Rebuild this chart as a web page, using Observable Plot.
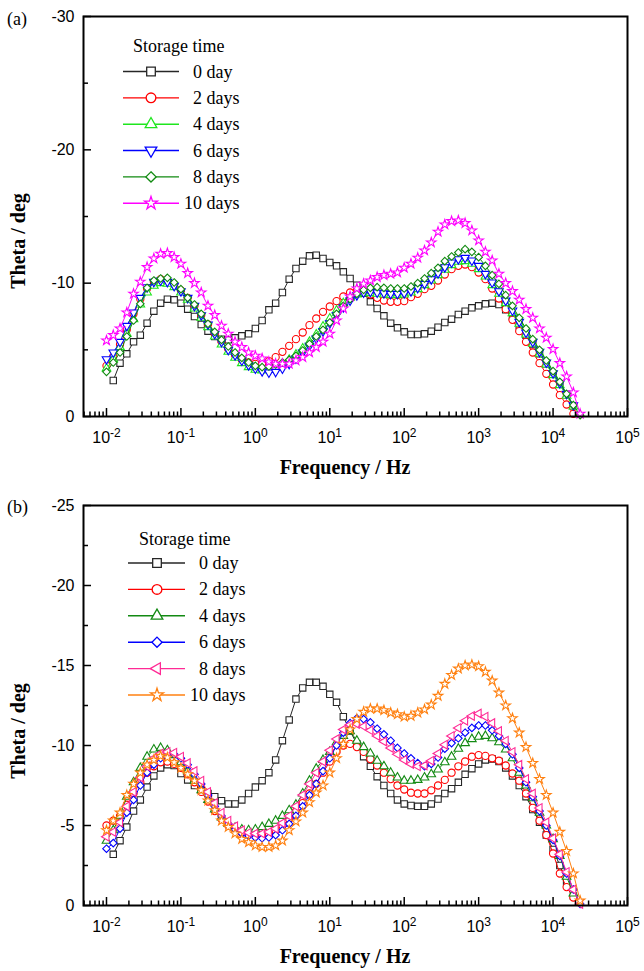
<!DOCTYPE html>
<html>
<head>
<meta charset="utf-8">
<script src="https://cdn.jsdelivr.net/npm/d3@7"></script>
<script src="https://cdn.jsdelivr.net/npm/@observablehq/plot@0.6"></script>
<style>
  html, body { margin: 0; padding: 0; background: #fff; }
  svg { display: block; }
</style>
</head>
<body>
<div id="chart"></div>
<script>
// ---------- DATA ----------
// Frequencies (Hz), 11 points per decade
const freq = [
  0.01,0.01233,0.0152,0.01874,0.0231,0.02848,0.03511,0.04329,0.05337,0.06579,0.08111,
  0.1,0.1233,0.152,0.1874,0.231,0.2848,0.3511,0.4329,0.5337,0.6579,0.8111,
  1,1.233,1.52,1.874,2.31,2.848,3.511,4.329,5.337,6.579,8.111,
  10,12.33,15.2,18.74,23.1,28.48,35.11,43.29,53.37,65.79,81.11,
  100,123.3,152,187.4,231,284.8,351.1,432.9,533.7,657.9,811.1,
  1000,1233,1520,1874,2310,2848,3511,4329,5337,6579,8111,
  10000,12330,15200,18740,23100
];

const seriesNames = ["0 day", "2 days", "4 days", "6 days", "8 days", "10 days"];

// Panel (a) theta / deg
const a_0day = [null,
  -2.7,-4.0,-4.7,-5.6,-6.1,-7.0,-7.9,-8.5,-8.8,-8.75,
  -8.5,-8.05,-7.5,-6.9,-6.4,-6.0,-5.8,-5.75,-5.9,-6.05,-6.2,
  -6.6,-7.2,-8.0,-8.5,-9.3,-10.3,-11.1,-11.65,-12.05,-12.1,-11.85,
  -11.55,-11.3,-10.85,-10.35,-9.85,-9.25,-8.6,-8.1,-7.55,-7.0,-6.65,
  -6.35,-6.15,-6.15,-6.2,-6.4,-6.7,-7.05,-7.3,-7.65,-7.9,-8.15,
  -8.3,-8.45,-8.5,-8.4,-8.0,-7.5,-6.8,-6.1,-5.4,-4.7,-3.95,
  -3.2,-2.45,-1.65,-0.8,null];
const a_2days = [
  -3.8,-4.5,-5.4,-6.5,-7.7,-8.8,-9.6,-10.1,-10.3,-10.2,-9.9,
  -9.45,-8.9,-8.3,-7.6,-6.9,-6.2,-5.6,-5.05,-4.6,-4.25,-4.05,
  -3.95,-4.0,-4.15,-4.45,-4.85,-5.3,-5.8,-6.3,-6.85,-7.35,-7.85,
  -8.25,-8.65,-9.0,-9.3,-9.45,-9.35,-9.15,-8.9,-8.7,-8.6,-8.6,
  -8.65,-8.95,-9.2,-9.55,-9.8,-10.2,-10.65,-11.05,-11.3,-11.4,-11.2,
  -10.8,-10.3,-9.6,-8.85,-8.05,-7.25,-6.4,-5.6,-4.8,-4.0,-3.2,
  -2.4,-1.6,-0.9,-0.2,null];
const a_4days = [
  -3.6,-4.3,-5.2,-6.2,-7.3,-8.4,-9.3,-9.8,-10.0,-9.95,-9.7,
  -9.3,-8.75,-8.1,-7.4,-6.7,-6.0,-5.4,-4.85,-4.4,-4.0,-3.7,
  -3.5,-3.45,-3.5,-3.65,-3.9,-4.25,-4.65,-5.1,-5.6,-6.15,-6.75,
  -7.35,-7.95,-8.5,-8.9,-9.15,-9.25,-9.25,-9.2,-9.15,-9.1,-9.1,
  -9.15,-9.3,-9.55,-9.85,-10.2,-10.6,-11.0,-11.35,-11.6,-11.65,-11.45,
  -11.05,-10.5,-9.85,-9.2,-8.5,-7.75,-6.95,-6.15,-5.45,-4.7,-3.9,
  -3.1,-2.35,-1.55,-0.75,null];
const a_6days = [
  -4.3,-4.8,-5.6,-6.8,-7.8,-8.9,-9.7,-10.1,-10.2,-10.1,-9.8,
  -9.4,-8.9,-8.3,-7.6,-6.9,-6.2,-5.6,-5.0,-4.6,-4.2,-3.85,
  -3.6,-3.4,-3.3,-3.35,-3.6,-3.95,-4.35,-4.8,-5.3,-5.85,-6.4,
  -7.0,-7.6,-8.2,-8.7,-9.1,-9.3,-9.35,-9.3,-9.25,-9.2,-9.2,
  -9.25,-9.4,-9.65,-9.95,-10.3,-10.75,-11.2,-11.55,-11.8,-11.9,-11.7,
  -11.3,-10.7,-10.05,-9.4,-8.7,-7.95,-7.1,-6.3,-5.6,-4.85,-4.05,
  -3.25,-2.5,-1.7,-0.85,null];
const a_8days = [
  -3.35,-4.05,-4.8,-6.0,-7.2,-8.45,-9.65,-10.2,-10.35,-10.4,-10.05,
  -9.55,-8.9,-8.4,-7.7,-6.95,-6.35,-5.75,-5.25,-4.8,-4.4,-4.05,
  -3.8,-3.7,-3.75,-3.9,-4.05,-4.25,-4.55,-4.95,-5.45,-6.0,-6.5,
  -7.05,-7.7,-8.3,-8.8,-9.2,-9.5,-9.65,-9.7,-9.65,-9.6,-9.6,
  -9.6,-9.75,-10.0,-10.35,-10.75,-11.15,-11.65,-12.0,-12.3,-12.55,-12.35,
  -11.95,-11.3,-10.6,-9.95,-9.1,-8.3,-7.4,-6.6,-5.8,-5.0,-4.2,
  -3.4,-2.6,-1.7,-0.85,-0.1];
const a_10days = [
  -5.7,-6.1,-6.6,-7.8,-9.2,-10.1,-11.2,-11.85,-12.2,-12.25,-11.95,
  -11.45,-10.75,-10.0,-9.3,-8.3,-7.6,-6.8,-6.2,-5.6,-5.2,-4.8,
  -4.55,-4.35,-4.1,-3.95,-3.95,-3.95,-4.2,-4.45,-4.8,-5.2,-5.6,
  -6.2,-7.2,-8.1,-9.0,-9.6,-9.95,-10.2,-10.45,-10.6,-10.7,-10.8,
  -11.15,-11.45,-11.9,-12.45,-13.05,-13.85,-14.4,-14.65,-14.7,-14.5,-13.95,
  -13.2,-12.35,-11.7,-10.7,-10.0,-9.4,-8.75,-8.05,-7.4,-6.6,-5.9,
  -5.05,-4.0,-3.0,-1.8,-0.2];

// Panel (b) theta / deg
const b_0day = [null,
  -3.2,-4.05,-4.9,-5.9,-6.6,-7.4,-8.1,-8.6,-8.8,-8.75,
  -8.25,-7.85,-7.5,-7.25,-7.0,-6.8,-6.55,-6.35,-6.35,-6.6,-7.0,
  -7.4,-7.8,-8.3,-9.1,-10.3,-11.6,-12.9,-13.6,-13.95,-13.95,-13.7,
  -13.2,-12.7,-11.8,-10.9,-10.1,-9.3,-8.7,-8.05,-7.5,-7.0,-6.6,
  -6.35,-6.25,-6.2,-6.2,-6.35,-6.65,-7.0,-7.3,-7.7,-8.2,-8.55,
  -8.85,-9.1,-9.15,-9.0,-8.6,-8.1,-7.5,-6.8,-6.0,-5.2,-4.4,
  -3.5,-2.5,-1.5,-0.6,null];
const b_2days = [
  -5.0,-5.3,-5.6,-6.3,-7.0,-7.7,-8.3,-8.7,-8.95,-9.0,-8.85,
  -8.6,-8.2,-7.7,-7.1,-6.5,-5.9,-5.4,-5.0,-4.75,-4.55,-4.45,
  -4.4,-4.4,-4.5,-4.7,-5.0,-5.4,-5.9,-6.4,-7.0,-7.6,-8.3,
  -9.0,-9.6,-10.0,-10.1,-9.9,-9.6,-9.15,-8.75,-8.3,-7.9,-7.5,
  -7.25,-7.05,-7.0,-7.0,-7.2,-7.5,-7.85,-8.3,-8.7,-9.0,-9.3,
  -9.4,-9.35,-9.2,-9.05,-8.75,-8.25,-7.8,-7.0,-6.1,-5.3,-4.4,
  -3.25,-2.0,-1.15,-0.5,null];
const b_4days = [
  -4.05,-4.7,-5.6,-6.8,-7.7,-8.6,-9.3,-9.75,-9.85,-9.7,-9.4,
  -8.95,-8.4,-7.8,-7.2,-6.6,-6.0,-5.5,-5.1,-4.85,-4.75,-4.7,
  -4.75,-4.9,-5.1,-5.3,-5.6,-5.95,-6.3,-7.0,-7.8,-8.55,-9.1,
  -9.6,-10.2,-10.6,-10.9,-10.3,-9.9,-9.5,-9.05,-8.7,-8.3,-8.0,
  -7.8,-7.8,-7.85,-8.0,-8.2,-8.5,-8.95,-9.3,-9.8,-10.15,-10.4,
  -10.55,-10.6,-10.45,-10.2,-9.75,-9.2,-8.3,-7.5,-6.7,-5.8,-5.0,
  -4.15,-3.1,-1.8,-0.75,null];
const b_6days = [
  -3.55,-3.9,-4.8,-5.8,-6.6,-7.5,-8.3,-8.8,-9.2,-9.45,-9.45,
  -9.2,-8.8,-8.2,-7.6,-6.9,-6.2,-5.6,-5.1,-4.75,-4.5,-4.35,
  -4.25,-4.2,-4.25,-4.4,-4.7,-5.1,-5.6,-6.2,-6.9,-7.6,-8.4,
  -9.2,-10.0,-10.8,-11.4,-11.7,-11.65,-11.45,-11.05,-10.7,-10.3,-9.85,
  -9.5,-9.2,-8.9,-8.7,-8.85,-9.25,-9.8,-10.15,-10.45,-10.8,-11.1,
  -11.25,-11.25,-10.95,-10.6,-10.1,-9.45,-8.6,-7.7,-6.8,-5.9,-5.0,
  -4.1,-3.1,-2.0,-1.0,-0.1];
const b_8days = [
  -4.3,-4.6,-5.2,-6.2,-7.1,-8.0,-8.7,-9.2,-9.5,-9.6,-9.55,
  -9.3,-8.9,-8.4,-7.8,-7.1,-6.4,-5.8,-5.3,-4.95,-4.7,-4.55,
  -4.5,-4.5,-4.6,-4.8,-5.15,-5.6,-6.2,-6.9,-7.6,-8.3,-9.0,
  -9.7,-10.4,-11.0,-11.3,-11.35,-11.2,-10.95,-10.6,-10.25,-9.85,-9.45,
  -9.1,-8.85,-8.7,-8.75,-9.05,-9.5,-10.05,-10.6,-11.1,-11.55,-11.85,
  -12.0,-11.8,-11.4,-10.9,-10.3,-9.6,-8.8,-7.9,-7.0,-6.1,-5.2,
  -4.2,-3.2,-2.1,-1.0,-0.1];
const b_10days = [
  -4.7,-5.3,-5.8,-6.9,-7.6,-8.3,-8.8,-9.1,-9.35,-9.25,-8.95,
  -8.6,-8.2,-7.8,-7.2,-6.55,-5.95,-5.3,-4.9,-4.5,-4.15,-3.95,
  -3.75,-3.65,-3.65,-3.75,-4.05,-4.7,-5.25,-5.8,-6.45,-7.05,-7.5,
  -8.3,-9.2,-10.1,-11.0,-11.65,-12.1,-12.3,-12.3,-12.2,-12.05,-11.95,
  -11.8,-11.85,-12.05,-12.25,-12.55,-13.1,-13.85,-14.4,-14.8,-15.0,-15.05,
  -14.95,-14.6,-14.05,-13.3,-12.5,-11.7,-10.8,-9.9,-8.9,-7.9,-6.9,
  -5.8,-4.6,-3.4,-2.0,-0.3];

// Axis ticks
const xMajor = [0.01, 0.1, 1, 10, 100, 1000, 10000, 100000];
const xMinorDecades = [0.001, 0.01, 0.1, 1, 10, 100, 1000, 10000];
const xMinorSteps = [2, 3, 4, 5, 6, 7, 8, 9];
const yMajorA = [0, -10, -20, -30];
const yMinorA = [-5, -15, -25];
const yMajorB = [0, -5, -10, -15, -20, -25];
const yMinorB = [-2.5, -7.5, -12.5, -17.5, -22.5];

// Colours
const colorsA = ["#262626", "#ff0000", "#1ee61e", "#0000ff", "#118a11", "#ff00ff"];
const colorsB = ["#262626", "#ff0000", "#138a13", "#0000ff", "#ff2a95", "#ff8010"];

// ---------- RENDER ----------
const SANS = "'Liberation Sans', Arial, Helvetica, sans-serif";
const SERIF = "'Liberation Serif', 'Times New Roman', Times, serif";

const sqrt3 = Math.sqrt(3);
const triangleDown = {draw(ctx, size) {
  const y = -Math.sqrt(size / (sqrt3 * 3));
  ctx.moveTo(0, -2 * y); ctx.lineTo(-sqrt3 * y, y); ctx.lineTo(sqrt3 * y, y); ctx.closePath();
}};
const triangleLeft = {draw(ctx, size) {
  const y = -Math.sqrt(size / (sqrt3 * 3));
  ctx.moveTo(2 * y, 0); ctx.lineTo(-y, -sqrt3 * y); ctx.lineTo(-y, sqrt3 * y); ctx.closePath();
}};

const symbolsA = [d3.symbolSquare, d3.symbolCircle, d3.symbolTriangle, triangleDown, d3.symbolDiamond2, d3.symbolStar];
const symbolsB = [d3.symbolSquare, d3.symbolCircle, d3.symbolTriangle, d3.symbolDiamond2, triangleLeft, d3.symbolStar];
// relative marker radius per symbol (stars/triangles look larger at equal area)
function markerR(sym) {
  if (sym === d3.symbolStar) return 3.0;
  if (sym === d3.symbolTriangle || sym === triangleDown || sym === triangleLeft) return 3.2;
  if (sym === d3.symbolDiamond2) return 3.4;
  return 3.6;
}

const valuesA = [a_0day, a_2days, a_4days, a_6days, a_8days, a_10days];
const valuesB = [b_0day, b_2days, b_4days, b_6days, b_8days, b_10days];

[...valuesA, ...valuesB].forEach((v, i) => {
  if (v.length !== freq.length) throw new Error("length mismatch in series " + i + ": " + v.length);
});

const xMinor = xMinorDecades.flatMap(d => xMinorSteps.map(s => +(d * s).toPrecision(3))).filter(v => v >= 0.0049);

function rows(values) {
  return freq.map((f, i) => ({f, theta: values[i]})).filter(d => d.theta != null);
}

function seriesMarks(values, colors, symbols) {
  return values.flatMap((v, i) => {
    const data = rows(v);
    return [
      Plot.line(data, {x: "f", y: "theta", stroke: colors[i], strokeWidth: 1}),
      Plot.dot(data, {x: "f", y: "theta", symbol: symbols[i], r: markerR(symbols[i]), stroke: colors[i], strokeWidth: 1.1, fill: "white"})
    ];
  });
}

function axisMarks(yMajor, yMinor) {
  return [
    Plot.axisX(xMajor, {anchor: "bottom", tickSize: -8, strokeWidth: 1.5, fill: "none", tickFormat: () => "", label: null}),
    Plot.axisX(xMinor, {anchor: "bottom", tickSize: -4.5, strokeWidth: 1.5, fill: "none", tickFormat: () => "", label: null}),
    Plot.axisX(xMajor, {anchor: "bottom", tickSize: 0, tickPadding: 15, fill: "black",
      tickFormat: d => "10^" + Math.round(Math.log10(d)), fontSize: 16, fontFamily: SANS, label: null}),
    Plot.axisY(yMajor, {anchor: "left", tickSize: -8, strokeWidth: 1.5, fill: "none", tickFormat: () => "", label: null}),
    Plot.axisY(yMinor, {anchor: "left", tickSize: -5, strokeWidth: 1.5, fill: "none", tickFormat: () => "", label: null}),
    Plot.axisY(yMajor, {anchor: "left", tickSize: 0, tickPadding: 9, fill: "black",
      tickFormat: d => String(d), fontSize: 16, fontFamily: SANS, label: null})
  ];
}

function fixExponents(svg) {
  d3.select(svg).selectAll('g[aria-label="x-axis tick label"] text').each(function () {
    const s = this.textContent;
    if (!s.includes("^")) return;
    const [base, exp] = s.split("^");
    const t = d3.select(this);
    t.text(null);
    t.append("tspan").text(base);
    t.append("tspan").attr("dy", "-0.45em").attr("font-size", "12px").text(exp);
  });
}

function decorate(svg, opt, colors, symbols) {
  const s = d3.select(svg);
  // panel label
  s.append("text").attr("x", 7).attr("y", opt.panelY).attr("text-anchor", "start").attr("font-family", SERIF)
    .attr("font-size", 18).attr("fill", "black").text(opt.panel);
  // axis titles
  s.append("text").attr("x", 345).attr("y", opt.xTitleY).attr("text-anchor", "middle")
    .attr("font-family", SERIF).attr("font-weight", "bold").attr("font-size", 20).attr("fill", "black")
    .text("Frequency / Hz");
  s.append("text").attr("transform", `translate(25,${opt.yTitleY}) rotate(-90)`).attr("text-anchor", "middle")
    .attr("font-family", SERIF).attr("font-weight", "bold").attr("font-size", 20).attr("fill", "black")
    .text("Theta / deg");
  // legend
  const g = s.append("g").attr("font-family", SERIF).attr("font-size", 18).attr("fill", "black")
    .attr("text-anchor", "start");
  g.append("text").attr("x", opt.lg.titleX).attr("y", opt.lg.titleY).text("Storage time");
  seriesNames.forEach((name, i) => {
    const y = opt.lg.rowY + i * opt.lg.rowDY;
    g.append("line").attr("x1", opt.lg.x1).attr("x2", opt.lg.x2).attr("y1", y).attr("y2", y)
      .attr("stroke", colors[i]).attr("stroke-width", 1.4);
    const lr = markerR(symbols[i]) * 1.35;
    g.append("path").attr("transform", `translate(${opt.lg.mx},${y})`)
      .attr("d", d3.symbol(symbols[i], Math.PI * lr * lr)())
      .attr("fill", "white").attr("stroke", colors[i]).attr("stroke-width", 1.3);
    g.append("text").attr("x", opt.lg.tx - (name.startsWith("10") ? 9 : 0)).attr("y", y + 6).text(name);
  });
}

function makePanel(values, colors, symbols, yDomain, yMajor, yMinor, dims) {
  const svg = Plot.plot({
    width: 644,
    height: dims.height,
    marginTop: dims.top,
    marginBottom: dims.bottom,
    marginLeft: 83,
    marginRight: 17,
    style: {background: "white", color: "black", fontFamily: SANS},
    x: {type: "log", domain: [0.00491, 100000]},
    y: {domain: yDomain},
    marks: [
      ...seriesMarks(values, colors, symbols),
      ...axisMarks(yMajor, yMinor),
      Plot.frame({stroke: "black", strokeWidth: 2})
    ]
  });
  fixExponents(svg);
  return svg;
}

const chart = document.getElementById("chart");

const svgA = makePanel(valuesA, colorsA, symbolsA, [0, -30], yMajorA, yMinorA, {height: 485, top: 16, bottom: 69});
decorate(svgA, {panel: "(a)", panelY: 25, xTitleY: 474, yTitleY: 241,
  lg: {titleX: 133, titleY: 52, rowY: 71.5, rowDY: 26.35, x1: 123, x2: 179, mx: 151, tx: 193}}, colorsA, symbolsA);
chart.appendChild(svgA);

const svgB = makePanel(valuesB, colorsB, symbolsB, [0, -25], yMajorB, yMinorB, {height: 486, top: 20, bottom: 66});
decorate(svgB, {panel: "(b)", panelY: 28, xTitleY: 478, yTitleY: 246,
  lg: {titleX: 139, titleY: 60, rowY: 78, rowDY: 26.4, x1: 128, x2: 185, mx: 157, tx: 199}}, colorsB, symbolsB);
chart.appendChild(svgB);
</script>
</body>
</html>
